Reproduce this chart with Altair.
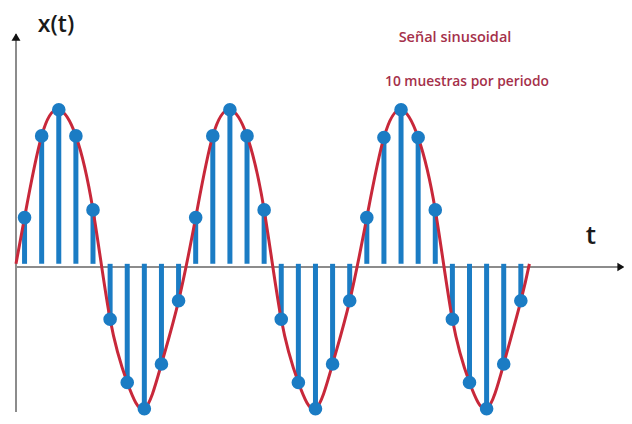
import altair as alt
import pandas as pd

sample_t = [0.5, 1.5, 2.5, 3.5, 4.5, 5.5, 6.5, 7.5, 8.5, 9.5,
            10.5, 11.5, 12.5, 13.5, 14.5, 15.5, 16.5, 17.5, 18.5, 19.5,
            20.5, 21.5, 22.5, 23.5, 24.5, 25.5, 26.5, 27.5, 28.5, 29.5]
sample_v = [0.30, 0.83, 1.00, 0.83, 0.35, -0.36, -0.77, -0.94, -0.65, -0.24,
            0.30, 0.83, 1.00, 0.83, 0.35, -0.36, -0.77, -0.94, -0.65, -0.24,
            0.30, 0.82, 1.00, 0.82, 0.35, -0.36, -0.77, -0.94, -0.65, -0.24]

# Continuous signal: starts and ends on the axis, passes through the samples
curve_t = [0.0] + sample_t + [30.0]
curve_v = [0.0] + sample_v + [0.0]

title_lines = ["Señal sinusoidal", "10 muestras por periodo"]
axis_labels = ["x(t)", "t"]

samples = pd.DataFrame({"t": sample_t, "v": sample_v})
curve = pd.DataFrame({"t": curve_t, "v": curve_v})
one = pd.DataFrame({"k": [0]})

xs = alt.Scale(domain=[-0.467, 35.47], nice=False, zero=False)
ys = alt.Scale(domain=[-0.955, 1.660], nice=False, zero=False)
X = alt.X("t:Q", scale=xs, axis=None)
Y = alt.Y("v:Q", scale=ys, axis=None)

AXIS_GRAY = "#8c8c8c"
BLUE = "#1b7cc4"
RED = "#c8283a"
TXT_RED = "#a5304a"

yaxis = alt.Chart(one).mark_rule(color=AXIS_GRAY, strokeWidth=2).encode(
    x=alt.value(8), y=alt.value(26), y2=alt.value(404))
xaxis = alt.Chart(one).mark_rule(color=AXIS_GRAY, strokeWidth=2).encode(
    x=alt.value(8), x2=alt.value(614), y=alt.value(259))
yarrow = alt.Chart(one).mark_point(shape="triangle-up", filled=True, color="#111", size=80, opacity=1).encode(
    x=alt.value(8), y=alt.value(29))
xarrow = alt.Chart(one).mark_point(shape="triangle-right", filled=True, color="#111", size=70, opacity=1).encode(
    x=alt.value(613), y=alt.value(259))

stems = alt.Chart(samples).mark_rule(color=BLUE, strokeWidth=5).encode(
    x=X, y=Y, y2=alt.datum(0))
line = alt.Chart(curve).mark_line(color=RED, strokeWidth=3, interpolate="natural").encode(x=X, y=Y)
dots = alt.Chart(samples).mark_circle(color=BLUE, size=185, opacity=1).encode(x=X, y=Y)

lbl_x = alt.Chart(one).mark_text(text=axis_labels[0], font="Open Sans", fontSize=23, fontWeight=600,
                                  color="#1a1a1a").encode(x=alt.value(48), y=alt.value(17))
lbl_t = alt.Chart(one).mark_text(text=axis_labels[1], font="Open Sans", fontSize=26, fontWeight=600,
                                  color="#1a1a1a").encode(x=alt.value(583), y=alt.value(228))
title1 = alt.Chart(one).mark_text(text=title_lines[0], font="Open Sans", fontSize=14.5, fontWeight=600,
                                   color=TXT_RED).encode(x=alt.value(447), y=alt.value(30))
title2 = alt.Chart(one).mark_text(text=title_lines[1], font="Open Sans", fontSize=13.8, fontWeight=600,
                                   color=TXT_RED).encode(x=alt.value(459), y=alt.value(74))

chart = alt.layer(
    yaxis, xaxis, yarrow, xarrow, stems, line, dots, lbl_x, lbl_t, title1, title2
).properties(
    width=616, height=408, padding=0,
    autosize=alt.AutoSizeParams(type="fit", contains="padding"),
    background="white",
).configure_view(stroke="transparent")

chart.save("out.html", embed_options={"renderer": "svg", "actions": False})
